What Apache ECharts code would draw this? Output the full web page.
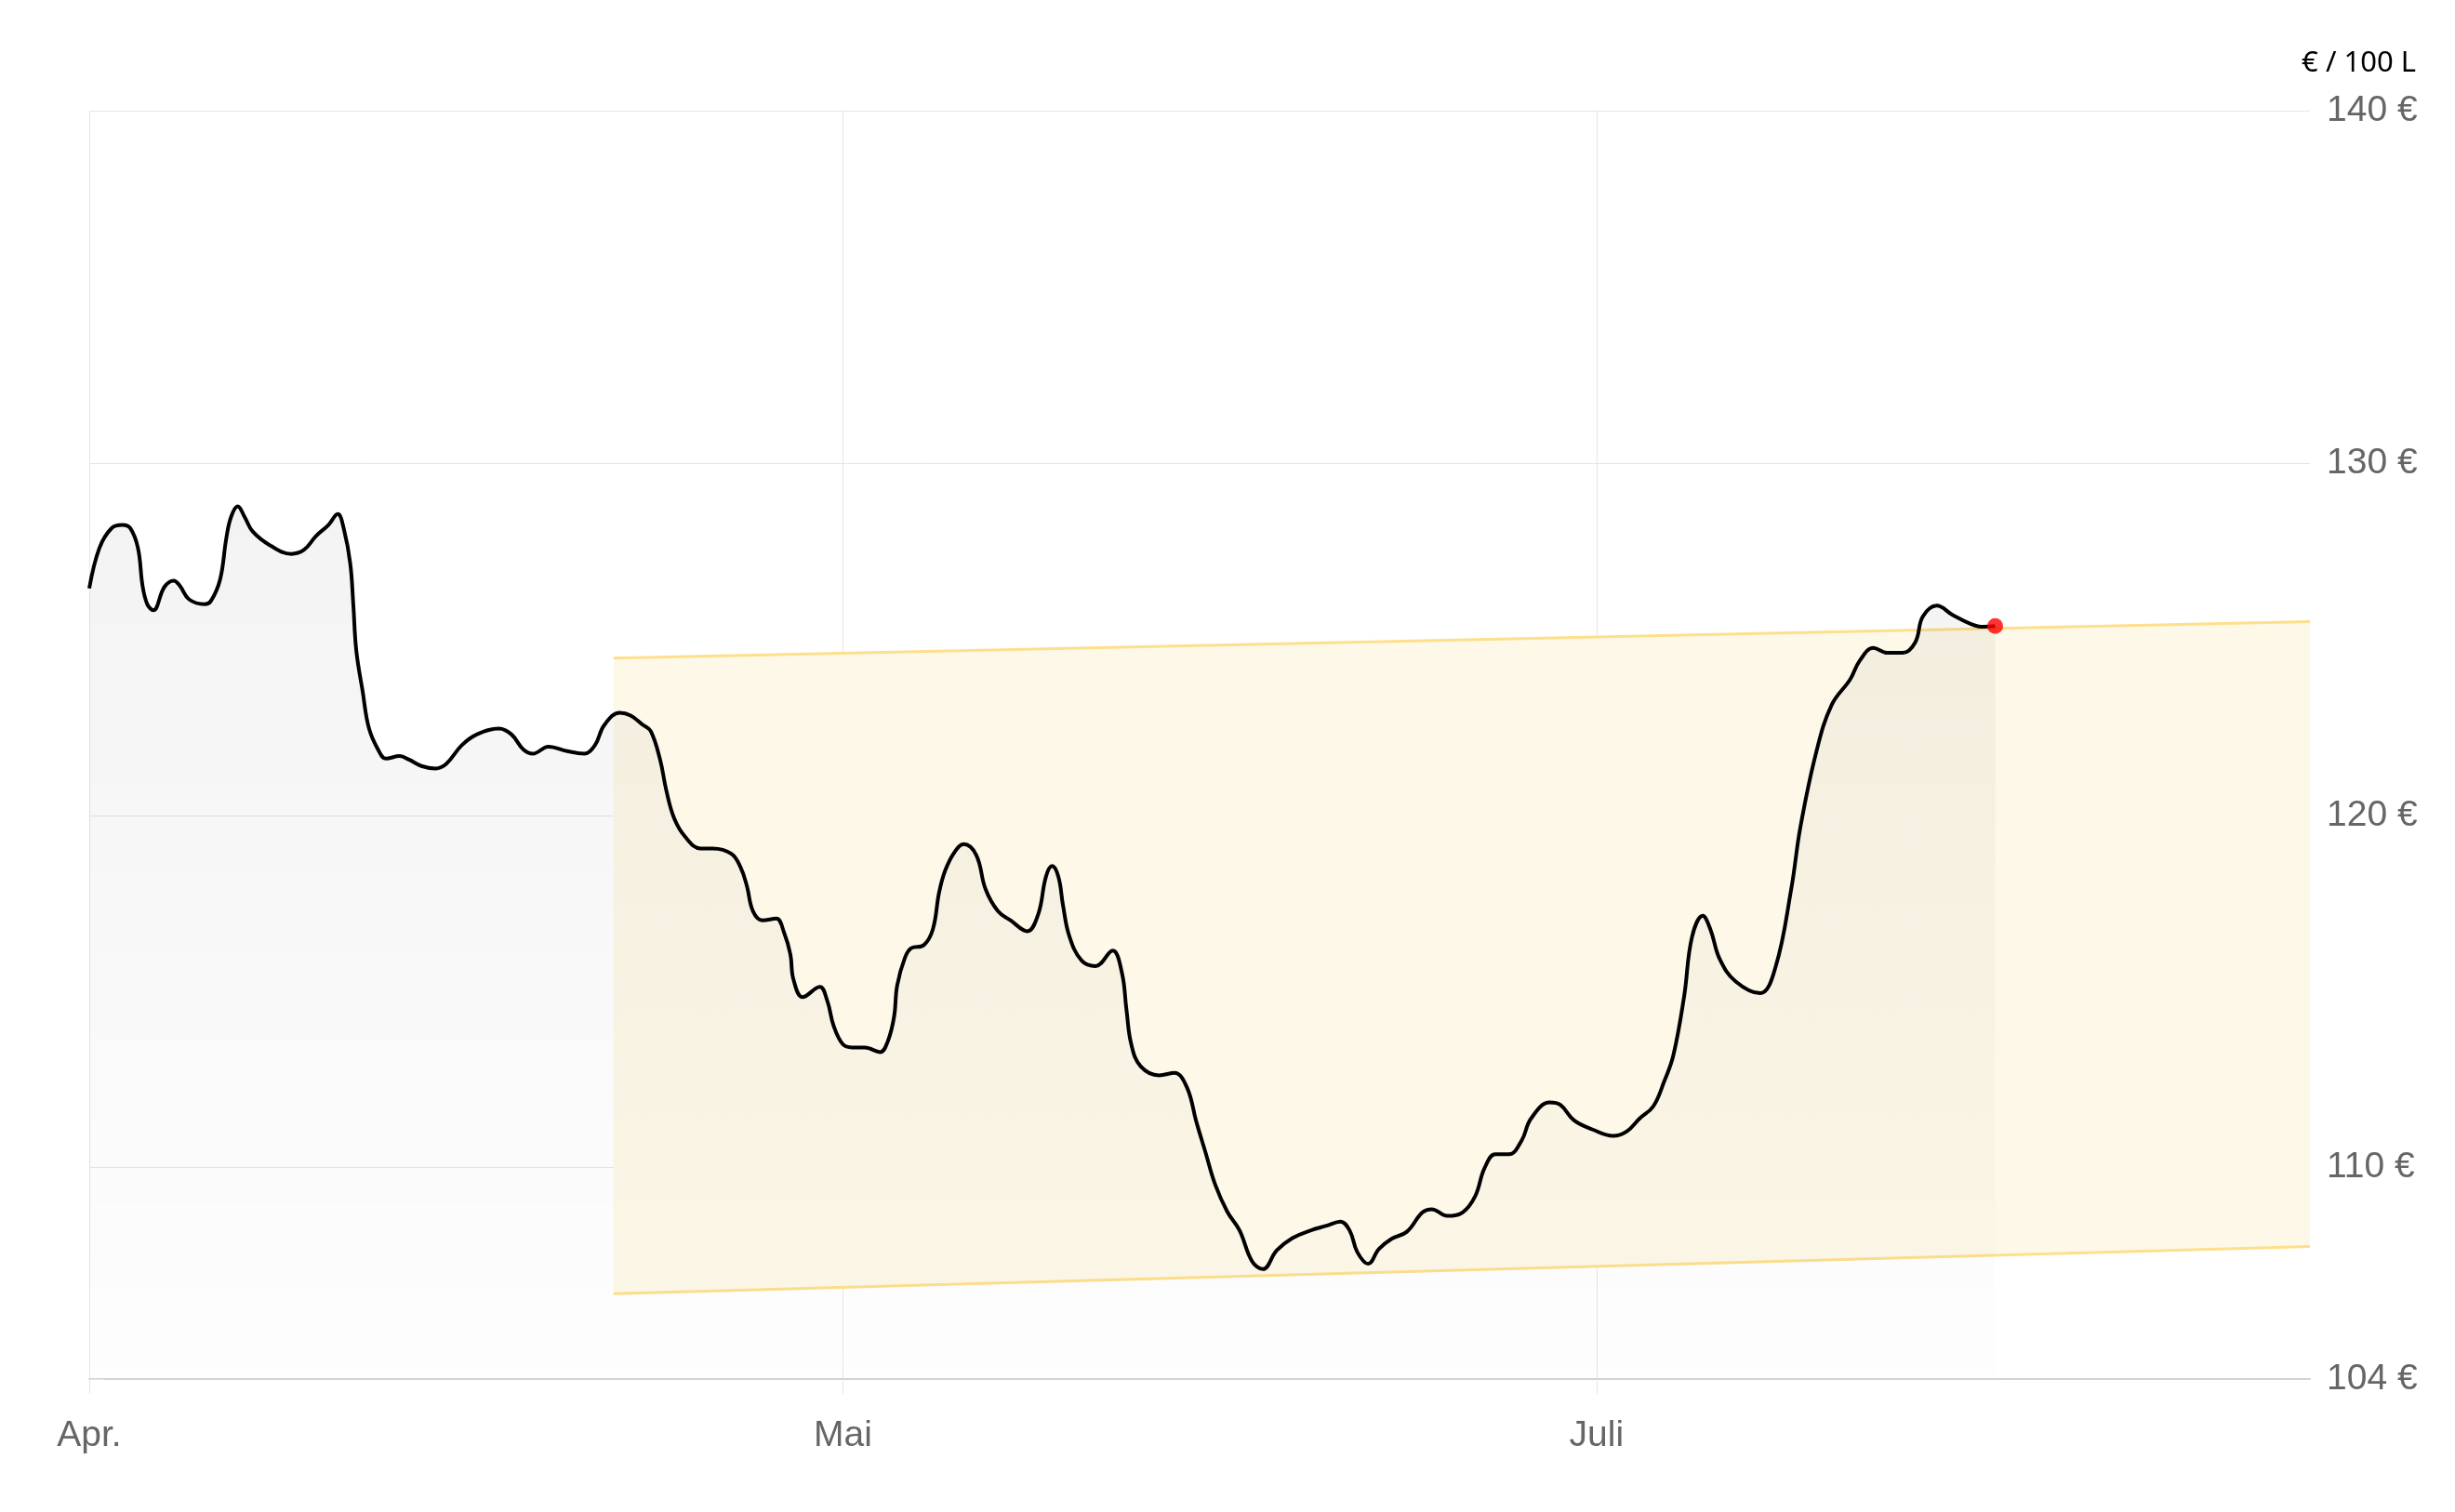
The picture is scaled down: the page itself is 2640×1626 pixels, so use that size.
<!DOCTYPE html>
<html>
<head>
<meta charset="utf-8">
<title>Preis je 100 L</title>
<script src="https://cdn.jsdelivr.net/npm/echarts@6/dist/echarts.min.js"></script>
<style>
  html, body { margin: 0; padding: 0; background: #fff; }
  #chart { width: 2640px; height: 1626px; }
</style>
</head>
<body>
<div id="chart"></div>
<script>
// x in Tagen ab Achsenbeginn (Apr. = 0)
const days = [
  0, 0.40, 0.89, 1.32, 1.63, 1.94, 2.12, 2.31, 2.55, 2.99, 3.36, 3.60, 3.97, 4.59, 4.84,
  5.21, 5.45, 5.64, 5.91, 6.19, 6.50, 7.18, 8.04, 8.54, 9.03, 9.52, 9.89, 10.14, 10.39,
  10.51, 10.63, 10.88, 11.13, 11.50, 11.81, 12.36, 12.73, 13.22, 13.78, 14.21, 14.83,
  15.44, 16.31, 16.80, 17.29, 17.66, 18.28, 19.02, 19.70, 20.13, 20.50, 21.12, 21.55,
  22.05, 22.35, 22.72, 22.97, 23.28, 23.71, 24.33, 24.82, 25.56, 25.93, 26.18, 26.42,
  26.80, 27.35, 27.66, 27.91, 28.03, 28.40, 29.08, 29.38, 29.63, 30.00, 30.37, 30.87,
  31.48, 31.79, 32.04, 32.16, 32.47, 32.72, 33.21, 33.58, 33.83, 34.07, 34.44, 34.81,
  35.31, 35.68, 36.17, 36.67, 37.34, 37.78, 38.08, 38.33, 38.58, 38.76, 39.01, 39.50,
  40.06, 40.74, 41.11, 41.29, 41.48, 41.85, 42.59, 43.20, 43.70, 44.07, 44.44, 44.81,
  45.30, 45.79, 46.29, 46.72, 47.27, 47.89, 48.63, 49.25, 49.80, 50.17, 50.48, 50.91,
  51.34, 51.84, 52.45, 53.07, 53.44, 54.06, 54.67, 55.17, 55.54, 55.97, 56.52, 57.02,
  57.39, 58.13, 58.56, 59.11, 59.85, 60.66, 61.21, 61.71, 62.26, 62.69, 63.06, 63.49,
  63.80, 64.23, 64.54, 64.91, 65.53, 66.51, 67.13, 67.75, 68.12, 68.74, 69.36, 70.10,
  70.47, 71.02, 71.58, 72.19, 72.69, 72.99, 73.55, 74.17, 74.91, 75.40, 75.87
]
const prices = [
  126.44, 127.58, 128.15, 128.24, 128.15, 127.58, 126.52, 125.99, 125.82, 126.48, 126.66, 126.52, 126.13, 125.99, 126.08,
  126.70, 127.84, 128.46, 128.77, 128.46, 128.06, 127.67, 127.42, 127.53, 127.93, 128.24, 128.55, 128.11, 127.14,
  125.99, 124.67, 123.53, 122.48, 121.86, 121.61, 121.68, 121.58, 121.40, 121.33, 121.46, 121.99,
  122.30, 122.46, 122.30, 121.86, 121.75, 121.95, 121.82, 121.75, 121.99, 122.56, 122.91, 122.83,
  122.56, 122.39, 121.59, 120.71, 119.92, 119.40, 119.06, 119.06, 118.91, 118.52, 117.99, 117.28,
  117.02, 117.07, 116.67, 116.05, 115.35, 114.84, 115.13, 114.73, 114.03, 113.50, 113.41, 113.41,
  113.28, 113.59, 114.29, 115.17, 115.96, 116.23, 116.31, 116.76, 117.81, 118.43, 118.95, 119.18,
  118.87, 117.90, 117.28, 117.02, 116.71, 117.20, 118.25, 118.56, 118.25, 117.46, 116.58, 115.88,
  115.72, 116.16, 115.52, 114.47, 113.50, 112.88, 112.62, 112.69, 112.27, 111.30, 110.42, 109.54,
  108.75, 108.22, 107.34, 107.12, 107.65, 108.00, 108.22, 108.35, 108.47, 108.22, 107.60, 107.27,
  107.69, 107.98, 108.18, 108.73, 108.82, 108.63, 108.73, 109.19, 109.98, 110.38, 110.38, 110.77,
  111.39, 111.85, 111.78, 111.34, 111.08, 110.90, 111.03, 111.39, 111.74, 112.44, 113.19, 114.87,
  116.54, 117.15, 116.75, 115.91, 115.29, 114.95, 115.70, 117.90, 119.68, 121.77, 123.13, 123.86,
  124.38, 124.75, 124.61, 124.61, 124.91, 125.64, 125.95, 125.69, 125.43, 125.35, 125.37
]

// Prognose-Korridor (Anfang / Ende)
const bandDays = [20.87, 88.4]
const bandUpper = [124.46, 125.5]
const bandLower = [106.42, 107.76]

const xTickDays = [0, 30, 60]
const xTickLabels = ['Apr.', 'Mai', 'Juli']
const yTicks = [104, 110, 120, 130, 140]
const unitLabel = '€ / 100 L'

const priceData = days.map((d, i) => [d, prices[i]])
const lastPoint = priceData[priceData.length - 1]

const gridColor = '#e6e6e6'
const bandLine = '#fddf8c'
const labelFont = '"Liberation Sans", Arial, sans-serif'

const chart = echarts.init(document.getElementById('chart'))

chart.setOption({
  animation: false,
  grid: { left: 96, right: 156, top: 119, bottom: 143 },
  graphic: [
    {
      type: 'text',
      right: 42,
      top: 53,
      style: {
        text: unitLabel,
        font: '31px "Noto Sans", sans-serif',
        fill: '#000'
      }
    }
  ],
  xAxis: {
    type: 'value',
    min: 0,
    max: bandDays[1],
    axisLine: { show: true, lineStyle: { color: '#d3d3d7', width: 2 } },
    axisTick: { show: true, length: 16, customValues: xTickDays, lineStyle: { color: gridColor } },
    axisLabel: {
      customValues: xTickDays,
      margin: 42,
      color: '#666',
      fontSize: 39,
      fontFamily: labelFont,
      formatter: v => xTickLabels[xTickDays.indexOf(v)] || ''
    },
    splitLine: { show: true, lineStyle: { color: gridColor, width: 1 } }
  },
  yAxis: {
    type: 'value',
    position: 'right',
    min: 104,
    max: 140,
    axisLine: { show: false },
    axisTick: { show: true, length: 16, customValues: yTicks, lineStyle: { color: gridColor } },
    axisLabel: {
      customValues: yTicks,
      margin: 18,
      color: '#666',
      fontSize: 39,
      fontFamily: labelFont,
      formatter: v => v + ' €'
    },
    splitLine: { show: true, lineStyle: { color: gridColor, width: 1 } }
  },
  series: [
    {
      type: 'custom',
      name: 'Korridor',
      silent: true,
      z: 1,
      data: [[bandDays[0], bandUpper[0]]],
      renderItem: (params, api) => {
        const p = (i, arr) => api.coord([bandDays[i], arr[i]])
        return {
          type: 'polygon',
          shape: { points: [p(0, bandUpper), p(1, bandUpper), p(1, bandLower), p(0, bandLower)] },
          style: { fill: '#fdf8e8' }
        }
      }
    },
    {
      type: 'line',
      name: 'Obergrenze',
      z: 2,
      silent: true,
      showSymbol: false,
      lineStyle: { color: bandLine, width: 3 },
      data: bandDays.map((d, i) => [d, bandUpper[i]])
    },
    {
      type: 'line',
      name: 'Untergrenze',
      z: 2,
      silent: true,
      showSymbol: false,
      lineStyle: { color: bandLine, width: 3 },
      data: bandDays.map((d, i) => [d, bandLower[i]])
    },
    {
      type: 'line',
      name: 'Preis',
      z: 3,
      smooth: 0.4,
      showSymbol: false,
      lineStyle: { color: '#000', width: 4 },
      areaStyle: {
        origin: 'start',
        color: new echarts.graphic.LinearGradient(0, 0, 0, 1, [
          { offset: 0, color: 'rgba(0, 0, 0, 0.065)' },
          { offset: 1, color: 'rgba(0, 0, 0, 0.008)' }
        ])
      },
      data: priceData
    },
    {
      type: 'scatter',
      name: 'Aktuell',
      z: 4,
      symbolSize: 17,
      itemStyle: { color: '#ff0000' },
      data: [lastPoint]
    }
  ]
})

window.addEventListener('resize', () => chart.resize())
</script>
</body>
</html>
